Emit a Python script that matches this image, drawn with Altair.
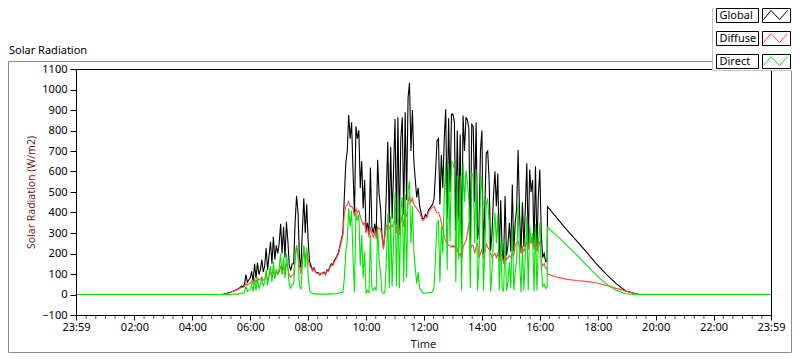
import altair as alt
import pandas as pd

# ---------------- data ----------------
series_names = ["Global", "Diffuse", "Direct"]
series_colors = ["#000000", "#ff4646", "#00e600"]

night_minute = -1          # 23:59 of the previous day
night_value = 0
day_start_minute = 300     # 05:00
day_step_minutes = 3

global_day = [
    0, 1, 2, 4, 6, 8, 10, 13, 16, 20,
    22, 25, 30, 35, 42, 38, 50, 97, 60, 72,
    80, 113, 65, 150, 80, 156, 97, 121, 170, 110,
    140, 226, 120, 190, 257, 150, 281, 170, 240, 200,
    250, 345, 200, 330, 180, 355, 260, 140, 120, 150,
    150, 350, 481, 400, 180, 130, 310, 470, 300, 440,
    260, 160, 140, 118, 130, 112, 105, 108, 96, 104,
    105, 110, 98, 120, 115, 135, 150, 145, 165, 175,
    190, 205, 240, 270, 300, 480, 640, 700, 875, 760,
    840, 600, 390, 820, 760, 801, 520, 650, 420, 560,
    305, 350, 290, 620, 330, 300, 345, 290, 657, 490,
    420, 290, 225, 300, 500, 745, 350, 720, 370, 610,
    856, 340, 865, 320, 760, 865, 390, 889, 460, 960,
    1033, 700, 900, 650, 560, 473, 520, 430, 400, 370,
    370, 390, 380, 410, 420, 430, 440, 470, 600, 750,
    760, 440, 680, 520, 760, 904, 370, 860, 500, 880,
    880, 840, 310, 800, 360, 780, 190, 873, 700, 865,
    850, 810, 250, 830, 820, 450, 840, 270, 330, 700,
    800, 200, 420, 690, 700, 560, 215, 300, 480, 600,
    430, 590, 180, 460, 210, 165, 480, 190, 240, 350,
    210, 537, 210, 350, 420, 705, 400, 210, 450, 230,
    420, 640, 240, 610, 500, 560, 235, 625, 230, 480,
    610, 300, 180, 200, 160,
]

diffuse_day = [
    0, 1, 2, 4, 6, 8, 10, 12, 15, 18,
    20, 23, 27, 30, 35, 33, 40, 55, 45, 52,
    55, 65, 50, 75, 60, 80, 70, 75, 85, 70,
    75, 100, 70, 90, 110, 85, 115, 90, 110, 100,
    110, 140, 100, 145, 95, 150, 130, 90, 85, 95,
    95, 180, 240, 210, 140, 100, 170, 230, 170, 210,
    170, 140, 130, 115, 125, 110, 102, 105, 94, 102,
    102, 106, 95, 116, 111, 130, 144, 140, 158, 168,
    185, 200, 230, 260, 290, 400, 430, 440, 455, 430,
    430, 420, 380, 420, 400, 410, 380, 360, 340, 350,
    300, 330, 280, 330, 300, 280, 310, 270, 330, 320,
    320, 280, 220, 290, 330, 350, 320, 340, 330, 350,
    360, 300, 380, 290, 350, 390, 330, 400, 380, 450,
    480, 450, 470, 440, 430, 420, 410, 400, 380, 360,
    365, 380, 375, 400, 410, 420, 425, 430, 410, 400,
    400, 380, 350, 320, 280, 260, 250, 240, 240, 230,
    240, 230, 250, 220, 190, 200, 170, 230, 250, 260,
    300, 350, 220, 240, 240, 200, 230, 250, 180, 200,
    220, 180, 200, 250, 230, 220, 200, 180, 190, 200,
    180, 200, 160, 200, 180, 150, 210, 170, 180, 190,
    180, 200, 190, 240, 250, 260, 230, 200, 230, 210,
    230, 260, 220, 270, 250, 260, 220, 280, 210, 240,
    260, 160, 140, 150, 130,
]

direct_day = [
    0, 0, 0, 0, 0, 0, 0, 1, 1, 2,
    2, 2, 3, 5, 7, 5, 10, 42, 15, 20,
    25, 48, 15, 75, 20, 76, 27, 46, 85, 40,
    60, 120, 45, 95, 140, 60, 160, 75, 125, 95,
    130, 200, 95, 180, 80, 200, 125, 45, 30, 50,
    50, 165, 240, 190, 40, 25, 140, 240, 130, 230,
    90, 20, 10, 3, 5, 2, 3, 3, 2, 2,
    2, 2, 2, 2, 2, 3, 3, 3, 4, 4,
    5, 5, 10, 10, 10, 80, 210, 260, 420, 330,
    410, 180, 10, 400, 360, 391, 140, 290, 80, 210,
    5, 20, 10, 290, 30, 20, 35, 20, 327, 170,
    100, 10, 5, 10, 170, 395, 30, 380, 40, 260,
    496, 40, 485, 30, 410, 475, 60, 489, 80, 510,
    553, 250, 430, 210, 130, 53, 110, 30, 20, 10,
    5, 8, 5, 10, 10, 10, 15, 40, 190, 350,
    360, 60, 330, 200, 480, 644, 120, 620, 260, 650,
    640, 610, 60, 580, 170, 580, 20, 643, 450, 605,
    550, 460, 30, 590, 580, 250, 610, 20, 150, 500,
    580, 20, 220, 440, 470, 340, 15, 120, 290, 400,
    250, 390, 20, 260, 30, 15, 270, 20, 60, 160,
    30, 337, 20, 110, 170, 445, 170, 10, 220, 20,
    190, 380, 20, 340, 250, 300, 15, 345, 20, 240,
    350, 140, 40, 50, 30,
]

eve_minutes = [975, 976, 994, 1014, 1035, 1056, 1076, 1097, 1118, 1138, 1159, 1167, 1439]
global_eve = [165, 428, 377, 320, 265, 209, 153, 101, 53, 17, 3, 0, 0]
diffuse_eve = [130, 100, 85, 75, 68, 64, 57, 45, 30, 17, 3, 0, 0]
direct_eve = [35, 328, 290, 245, 197, 145, 97, 53, 21, 4, 0, 0, 0]

x_tick_minutes = [-1, 120, 240, 360, 480, 600, 720, 840, 960, 1080, 1200, 1320, 1439]
x_tick_labels = ["23:59", "02:00", "04:00", "06:00", "08:00", "10:00", "12:00",
                 "14:00", "16:00", "18:00", "20:00", "22:00", "23:59"]
y_ticks = [-100, 0, 100, 200, 300, 400, 500, 600, 700, 800, 900, 1000, 1100]

chart_title = "Solar Radiation"
x_title = "Time"
y_title = "Solar Radiation (W/m2)"

# ---------------- table ----------------
rows = []
for name, day, eve in zip(series_names,
                          [global_day, diffuse_day, direct_day],
                          [global_eve, diffuse_eve, direct_eve]):
    rows.append({"series": name, "minute": night_minute, "value": night_value})
    for i, v in enumerate(day):
        rows.append({"series": name, "minute": day_start_minute + day_step_minutes * i, "value": v})
    for m, v in zip(eve_minutes, eve):
        rows.append({"series": name, "minute": m, "value": v})
df = pd.DataFrame(rows)

minor_df = pd.DataFrame({"minute": [m for m in range(20, 1440, 20) if m % 120 != 0]})
dummy = pd.DataFrame({"d": [0]})

FONT = "Noto Sans"
PLOT_W, PLOT_H = 695, 246
PAD = {"left": 68, "top": 61, "right": 21, "bottom": 38}

label_expr = ""
for m, lab in zip(x_tick_minutes, x_tick_labels):
    label_expr += f"datum.value == {m} ? '{lab}' : "
label_expr += "''"

x_scale = alt.Scale(domain=[-1, 1439], nice=False, zero=False)
y_scale = alt.Scale(domain=[-100, 1100], nice=False, zero=False)

x_axis = alt.Axis(values=x_tick_minutes, labelExpr=label_expr, title=None,
                  tickSize=5, tickColor="black", domain=False, grid=False,
                  labelFont=FONT, labelFontSize=11, labelColor="black",
                  labelPadding=1, labelFlush=False, labelOverlap=False)
y_axis = alt.Axis(values=y_ticks, format="d", title=y_title,
                  tickSize=6, tickColor="black", domain=False, grid=False,
                  labelFont=FONT, labelFontSize=11, labelColor="black",
                  labelPadding=3, labelOverlap=False,
                  titleFont=FONT, titleFontSize=10.5, titleFontWeight="normal",
                  titleColor="#6b1d1d", titlePadding=5)

X = alt.X("minute:Q", scale=x_scale, axis=x_axis)
Y = alt.Y("value:Q", scale=y_scale, axis=y_axis)

layers = []

# outer frame
layers.append(alt.Chart(dummy).mark_rect(fillOpacity=0, stroke="#8c8c8c", strokeWidth=1).encode(
    x=alt.value(-67.5), x2=alt.value(715.5), y=alt.value(-7.5), y2=alt.value(283.5)))

# data lines (Global underneath, Direct on top)
for name, color in zip(series_names, series_colors):
    layers.append(
        alt.Chart(df).transform_filter(alt.datum.series == name)
        .mark_line(color=color, strokeWidth=1.1, clip=True, interpolate="linear")
        .encode(x=X, y=Y, order="minute:Q")
    )

# minor x ticks
layers.append(alt.Chart(minor_df).mark_tick(color="black", orient="vertical", size=3, thickness=1).encode(
    x=alt.X("minute:Q", scale=x_scale, axis=x_axis), y=alt.value(PLOT_H + 2.5)))

# plot border
layers.append(alt.Chart(dummy).mark_rect(fillOpacity=0, stroke="black", strokeWidth=1).encode(
    x=alt.value(0.5), x2=alt.value(695.5), y=alt.value(0.5), y2=alt.value(PLOT_H + 0.5)))

# x axis title
layers.append(alt.Chart(dummy).mark_text(text=x_title, align="center", baseline="alphabetic",
                                         font=FONT, fontSize=11, color="#1a1a1a").encode(
    x=alt.value(PLOT_W / 2), y=alt.value(279)))

# legend panel
layers.append(alt.Chart(dummy).mark_rect(fill="white", stroke="#c4c4c4", strokeWidth=1).encode(
    x=alt.value(636.5), x2=alt.value(730), y=alt.value(-80), y2=alt.value(1.5)))

row_tops = [-61, -38, -15]
for name, color, top in zip(series_names, series_colors, row_tops):
    layers.append(alt.Chart(dummy).mark_rect(fill="white", stroke="black", strokeWidth=1).encode(
        x=alt.value(640.5), x2=alt.value(682.5), y=alt.value(top + 0.5), y2=alt.value(top + 14.5)))
    layers.append(alt.Chart(dummy).mark_rect(fill="white", stroke="black", strokeWidth=1).encode(
        x=alt.value(686.5), x2=alt.value(714.5), y=alt.value(top + 0.5), y2=alt.value(top + 14.5)))
    layers.append(alt.Chart(dummy).mark_text(text=name, align="left", baseline="middle",
                                             font=FONT, fontSize=11, color="black").encode(
        x=alt.value(643.5), y=alt.value(top + 7.5)))
    zx = [687.5, 695, 703.5, 711.5]
    zy = [top + 11.5, top + 2.5, top + 11.5, top + 2.5]
    for k in range(3):
        layers.append(alt.Chart(dummy).mark_rule(color=color, strokeWidth=1).encode(
            x=alt.value(zx[k]), x2=alt.value(zx[k + 1]), y=alt.value(zy[k]), y2=alt.value(zy[k + 1])))

# chart title
layers.append(alt.Chart(dummy).mark_text(text=chart_title, align="left", baseline="alphabetic",
                                         font=FONT, fontSize=11, color="black").encode(
    x=alt.value(-67), y=alt.value(-15)))

chart = alt.layer(*layers).properties(
    width=PLOT_W, height=PLOT_H,
    padding=PAD,
    autosize=alt.AutoSizeParams(type="none"),
    background="white",
).configure_view(stroke=None)

chart.save("out.html", embed_options={"renderer": "svg", "actions": False})
